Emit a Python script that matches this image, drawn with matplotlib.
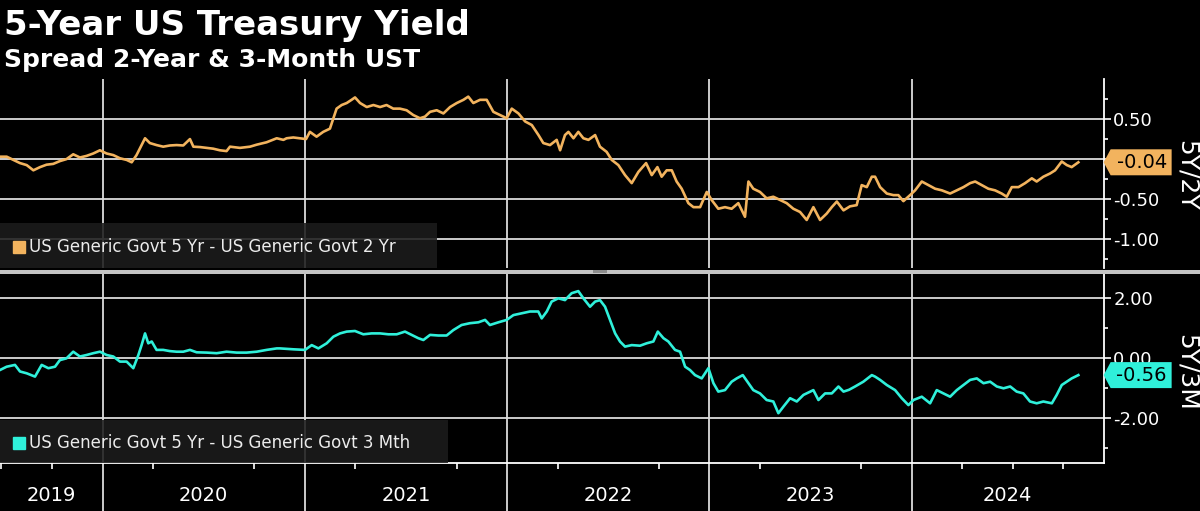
import matplotlib.pyplot as plt
import matplotlib.transforms as mtransforms
from matplotlib.patches import Polygon, Rectangle
from matplotlib.ticker import FuncFormatter

# dates as decimal years, spreads in percentage points
t_5y2y = [2019.493, 2019.526, 2019.559, 2019.592, 2019.625, 2019.658, 2019.691, 2019.723, 2019.756, 2019.789,
          2019.822, 2019.855, 2019.888, 2019.921, 2019.954, 2019.987, 2020.020, 2020.053, 2020.086, 2020.119,
          2020.144, 2020.168, 2020.193, 2020.210, 2020.234, 2020.267, 2020.300, 2020.333, 2020.366, 2020.399,
          2020.432, 2020.449, 2020.482, 2020.515, 2020.547, 2020.580, 2020.613, 2020.630, 2020.679, 2020.729,
          2020.762, 2020.811, 2020.861, 2020.894, 2020.910, 2020.943, 2020.976, 2021.006, 2021.025, 2021.058,
          2021.091, 2021.124, 2021.141, 2021.157, 2021.182, 2021.207, 2021.231, 2021.248, 2021.273, 2021.306,
          2021.339, 2021.372, 2021.404, 2021.437, 2021.470, 2021.503, 2021.536, 2021.569, 2021.594, 2021.619,
          2021.652, 2021.685, 2021.718, 2021.751, 2021.784, 2021.808, 2021.833, 2021.866, 2021.899, 2021.932,
          2021.965, 2021.998, 2022.023, 2022.056, 2022.089, 2022.122, 2022.155, 2022.179, 2022.212, 2022.245,
          2022.262, 2022.286, 2022.303, 2022.328, 2022.352, 2022.377, 2022.402, 2022.435, 2022.459, 2022.492,
          2022.517, 2022.550, 2022.583, 2022.616, 2022.649, 2022.687, 2022.715, 2022.743, 2022.764, 2022.789,
          2022.814, 2022.838, 2022.863, 2022.896, 2022.921, 2022.954, 2022.987, 2023.011, 2023.044, 2023.077,
          2023.110, 2023.143, 2023.176, 2023.193, 2023.217, 2023.250, 2023.283, 2023.316, 2023.349, 2023.382,
          2023.415, 2023.448, 2023.481, 2023.514, 2023.547, 2023.580, 2023.605, 2023.630, 2023.663, 2023.695,
          2023.728, 2023.753, 2023.778, 2023.803, 2023.819, 2023.844, 2023.877, 2023.910, 2023.934, 2023.959,
          2023.992, 2024.017, 2024.050, 2024.083, 2024.116, 2024.149, 2024.190, 2024.223, 2024.256, 2024.289,
          2024.314, 2024.346, 2024.379, 2024.412, 2024.445, 2024.470, 2024.495, 2024.528, 2024.561, 2024.594,
          2024.618, 2024.651, 2024.684, 2024.709, 2024.742, 2024.767, 2024.791, 2024.824]
spread_5y2y = [0.03, 0.03, -0.01, -0.05, -0.075, -0.14, -0.10, -0.07, -0.06, -0.025,
               0.0, 0.06, 0.02, 0.04, 0.07, 0.11, 0.07, 0.05, 0.01, -0.01,
               -0.04, 0.05, 0.175, 0.26, 0.20, 0.175, 0.155, 0.17, 0.175, 0.17,
               0.25, 0.155, 0.15, 0.14, 0.13, 0.11, 0.10, 0.155, 0.14, 0.155,
               0.18, 0.21, 0.26, 0.24, 0.26, 0.27, 0.26, 0.25, 0.34, 0.28,
               0.34, 0.38, 0.51, 0.63, 0.675, 0.70, 0.74, 0.77, 0.70, 0.65,
               0.675, 0.65, 0.675, 0.63, 0.63, 0.61, 0.55, 0.51, 0.53, 0.59,
               0.61, 0.57, 0.65, 0.70, 0.74, 0.78, 0.70, 0.74, 0.74, 0.59,
               0.55, 0.51, 0.63, 0.57, 0.47, 0.425, 0.30, 0.20, 0.175, 0.24,
               0.11, 0.30, 0.34, 0.26, 0.34, 0.26, 0.24, 0.30, 0.155, 0.09,
               -0.01, -0.075, -0.20, -0.30, -0.16, -0.05, -0.20, -0.10, -0.22, -0.14,
               -0.14, -0.28, -0.37, -0.55, -0.60, -0.60, -0.41, -0.51, -0.62, -0.60,
               -0.62, -0.55, -0.72, -0.28, -0.37, -0.41, -0.49, -0.47, -0.51, -0.55,
               -0.62, -0.66, -0.76, -0.60, -0.76, -0.68, -0.60, -0.53, -0.64, -0.59,
               -0.575, -0.325, -0.35, -0.22, -0.22, -0.35, -0.43, -0.45, -0.45, -0.525,
               -0.45, -0.39, -0.28, -0.325, -0.37, -0.39, -0.43, -0.39, -0.35, -0.30,
               -0.28, -0.325, -0.37, -0.39, -0.43, -0.47, -0.35, -0.35, -0.30, -0.24,
               -0.28, -0.22, -0.18, -0.14, -0.03, -0.075, -0.10, -0.04]

t_5y3m = [2019.493, 2019.526, 2019.567, 2019.592, 2019.625, 2019.666, 2019.699, 2019.732, 2019.765, 2019.789,
          2019.822, 2019.855, 2019.888, 2019.921, 2019.954, 2019.987, 2020.020, 2020.053, 2020.086, 2020.119,
          2020.152, 2020.177, 2020.193, 2020.210, 2020.226, 2020.243, 2020.267, 2020.300, 2020.333, 2020.366,
          2020.399, 2020.432, 2020.465, 2020.515, 2020.564, 2020.613, 2020.663, 2020.712, 2020.762, 2020.811,
          2020.861, 2020.877, 2020.943, 2021.001, 2021.034, 2021.067, 2021.108, 2021.141, 2021.174, 2021.207,
          2021.248, 2021.289, 2021.330, 2021.372, 2021.413, 2021.454, 2021.495, 2021.528, 2021.561, 2021.586,
          2021.619, 2021.660, 2021.701, 2021.734, 2021.775, 2021.816, 2021.858, 2021.891, 2021.915, 2021.957,
          2021.998, 2022.031, 2022.072, 2022.113, 2022.154, 2022.171, 2022.196, 2022.220, 2022.253, 2022.286,
          2022.319, 2022.352, 2022.377, 2022.410, 2022.435, 2022.459, 2022.484, 2022.509, 2022.534, 2022.558,
          2022.583, 2022.616, 2022.657, 2022.690, 2022.723, 2022.745, 2022.773, 2022.797, 2022.830, 2022.855,
          2022.880, 2022.904, 2022.929, 2022.962, 2022.995, 2023.020, 2023.044, 2023.077, 2023.110, 2023.135,
          2023.165, 2023.193, 2023.217, 2023.250, 2023.283, 2023.316, 2023.341, 2023.366, 2023.399, 2023.432,
          2023.465, 2023.514, 2023.539, 2023.572, 2023.605, 2023.638, 2023.663, 2023.690, 2023.720, 2023.761,
          2023.803, 2023.819, 2023.844, 2023.877, 2023.918, 2023.951, 2023.984, 2024.009, 2024.050, 2024.091,
          2024.124, 2024.157, 2024.190, 2024.223, 2024.256, 2024.289, 2024.322, 2024.355, 2024.388, 2024.421,
          2024.454, 2024.487, 2024.519, 2024.552, 2024.585, 2024.618, 2024.651, 2024.693, 2024.717, 2024.742,
          2024.767, 2024.791, 2024.824]
spread_5y3m = [-0.39, -0.28, -0.22, -0.44, -0.50, -0.61, -0.22, -0.33, -0.28, -0.06,
               0.0, 0.22, 0.06, 0.11, 0.17, 0.22, 0.11, 0.06, -0.11, -0.11,
               -0.33, 0.11, 0.44, 0.83, 0.50, 0.56, 0.28, 0.28, 0.24, 0.22,
               0.22, 0.28, 0.20, 0.19, 0.17, 0.22, 0.19, 0.19, 0.22, 0.28,
               0.33, 0.33, 0.30, 0.28, 0.44, 0.33, 0.50, 0.72, 0.83, 0.89,
               0.91, 0.80, 0.83, 0.83, 0.80, 0.80, 0.89, 0.78, 0.67, 0.61,
               0.78, 0.76, 0.76, 0.94, 1.11, 1.17, 1.20, 1.28, 1.11, 1.20,
               1.28, 1.44, 1.50, 1.56, 1.56, 1.33, 1.56, 1.89, 2.00, 1.94,
               2.17, 2.24, 2.00, 1.72, 1.89, 1.94, 1.72, 1.28, 0.83, 0.56,
               0.39, 0.44, 0.42, 0.50, 0.56, 0.89, 0.67, 0.56, 0.28, 0.22,
               -0.28, -0.39, -0.56, -0.67, -0.33, -0.83, -1.11, -1.06, -0.78, -0.67,
               -0.56, -0.83, -1.06, -1.17, -1.39, -1.44, -1.83, -1.61, -1.33, -1.44,
               -1.22, -1.06, -1.39, -1.17, -1.17, -0.94, -1.11, -1.05, -0.94, -0.78,
               -0.56, -0.61, -0.72, -0.89, -1.06, -1.33, -1.56, -1.39, -1.28, -1.50,
               -1.06, -1.17, -1.28, -1.06, -0.89, -0.72, -0.67, -0.83, -0.78, -0.94,
               -1.00, -0.94, -1.11, -1.17, -1.44, -1.50, -1.44, -1.50, -1.22, -0.89,
               -0.78, -0.67, -0.56]

years = [2019, 2020, 2021, 2022, 2023, 2024]
legend_names = ['US Generic Govt 5 Yr - US Generic Govt 2 Yr',
                'US Generic Govt 5 Yr - US Generic Govt 3 Mth']
axis_names = ['5Y/2Y', '5Y/3M']

ORANGE = '#f2b35e'
CYAN = '#2ff0da'
GRID = '#dcdcdc'
XMIN, XMAX = 2019.493, 2024.949

plt.rcParams['font.family'] = ['DejaVu Sans']

fig = plt.figure(figsize=(12, 5.11), dpi=100, facecolor='black')
ax1 = fig.add_axes([0, 0.4755, 0.9197, 0.3699])
ax2 = fig.add_axes([0, 0.0945, 0.9197, 0.3693], sharex=ax1)


def draw_panel(ax, t, v, color, ylim, major, minor, hidden, legend, legend_w, legend_h,
               name, name_y):
    ax.set_facecolor('black')
    ax.plot(t, v, color=color, lw=1.9, zorder=3, solid_joinstyle='round')
    ax.set_xlim(XMIN, XMAX)
    ax.set_ylim(*ylim)
    ax.set_yticks(major)
    ax.set_yticks(minor, minor=True)

    # a tick label fully covered by the value tag is left blank
    def fmt(val, pos):
        if hidden is not None and abs(val - hidden) < 1e-9:
            return ''
        return f'{val:.2f}'
    ax.yaxis.set_major_formatter(FuncFormatter(fmt))
    ax.yaxis.tick_right()
    ax.tick_params(axis='y', which='both', colors='white', labelsize=13,
                   direction='out', width=1.2, pad=2)
    ax.tick_params(axis='y', which='major', length=5)
    ax.tick_params(axis='y', which='minor', length=3)
    ax.grid(axis='y', color=GRID, lw=1.3)
    ax.set_axisbelow(True)
    for s in ['top', 'left', 'bottom']:
        ax.spines[s].set_visible(False)
    ax.spines['right'].set_color('white')
    ax.spines['right'].set_linewidth(1.3)

    # legend box in the lower left
    ax.add_patch(Rectangle((0, 0), legend_w, legend_h, transform=ax.transAxes,
                           facecolor='#1c1c1c', alpha=0.88, zorder=5, clip_on=False))
    ax.plot([0.0168], [legend_h * 0.47], marker='s', ms=8, color=color,
            transform=ax.transAxes, zorder=6, clip_on=False)
    ax.text(0.0263, legend_h * 0.47, legend, transform=ax.transAxes, color='#ececec',
            fontsize=12, va='center', ha='left', zorder=6)

    # last value tag on the right axis
    last = v[-1]
    anchor = mtransforms.ScaledTranslation(1.0, last, ax.get_yaxis_transform())
    tr = fig.dpi_scale_trans + anchor
    tag = Polygon([(0, 0), (0.07, 0.13), (0.68, 0.13), (0.68, -0.13), (0.07, -0.13)],
                  closed=True, facecolor=color, edgecolor='none', transform=tr,
                  clip_on=False, zorder=10)
    ax.add_artist(tag)
    ax.text(0.38, -0.005, f'{last:.2f}', transform=tr, color='black', fontsize=14,
            ha='center', va='center', zorder=11, clip_on=False)

    fig.text(1187 / 1200, name_y, name, rotation=270, color='white', fontsize=18,
             ha='center', va='center')


draw_panel(ax1, t_5y2y, spread_5y2y, ORANGE, (-1.36, 1.0), [-1.0, -0.5, 0.0, 0.5],
           [-1.25, -0.75, -0.25, 0.25, 0.75], 0.0, legend_names[0], 0.396, 0.238,
           axis_names[0], 1 - 175 / 511)
draw_panel(ax2, t_5y3m, spread_5y3m, CYAN, (-3.48, 2.81), [-2.0, 0.0, 2.0],
           [-3.0, -1.0, 1.0], None, legend_names[1], 0.406, 0.226,
           axis_names[1], 1 - 372 / 511)

# year separators
for y in years[1:]:
    ax1.axvline(y, color=GRID, lw=1.3, zorder=1)
    ax2.axvline(y, ymin=-0.256, ymax=1, color=GRID, lw=1.3, zorder=1, clip_on=False)

# x axis: quarter ticks, year labels centred in each visible year
quarters = [y + q for y in years for q in (0.25, 0.5, 0.75) if XMIN < y + q < XMAX]
centers = [(max(y, XMIN) + min(y + 1, XMAX)) / 2 for y in years]
ax2.spines['bottom'].set_visible(True)
ax2.spines['bottom'].set_color('white')
ax2.spines['bottom'].set_linewidth(1.3)
ax2.set_xticks(centers)
ax2.set_xticklabels([str(y) for y in years])
ax2.set_xticks(quarters, minor=True)
ax2.tick_params(axis='x', which='major', length=0, pad=17, labelsize=14, colors='white')
ax2.tick_params(axis='x', which='minor', length=4.5, width=1.2, color='white', direction='out')
ax1.tick_params(axis='x', which='both', bottom=False, labelbottom=False)

# grey splitter between the panels
fig.patches.append(Rectangle((0, 1 - 273.5 / 511), 1, 4 / 511, transform=fig.transFigure,
                             facecolor='#c4c4c4', edgecolor='none', zorder=20))
fig.patches.append(Rectangle((593 / 1200, 1 - 273 / 511), 14 / 1200, 3 / 511,
                             transform=fig.transFigure, facecolor='#8c8c8c',
                             edgecolor='none', zorder=21))

fig.text(0.003, 1 - 35 / 511, '5-Year US Treasury Yield', color='white', fontsize=24.5,
         weight='bold', va='baseline', ha='left')
fig.text(0.003, 1 - 66.5 / 511, 'Spread 2-Year & 3-Month UST', color='white', fontsize=18,
         weight='bold', va='baseline', ha='left')

fig.savefig('out.png', dpi=100, facecolor='black')
